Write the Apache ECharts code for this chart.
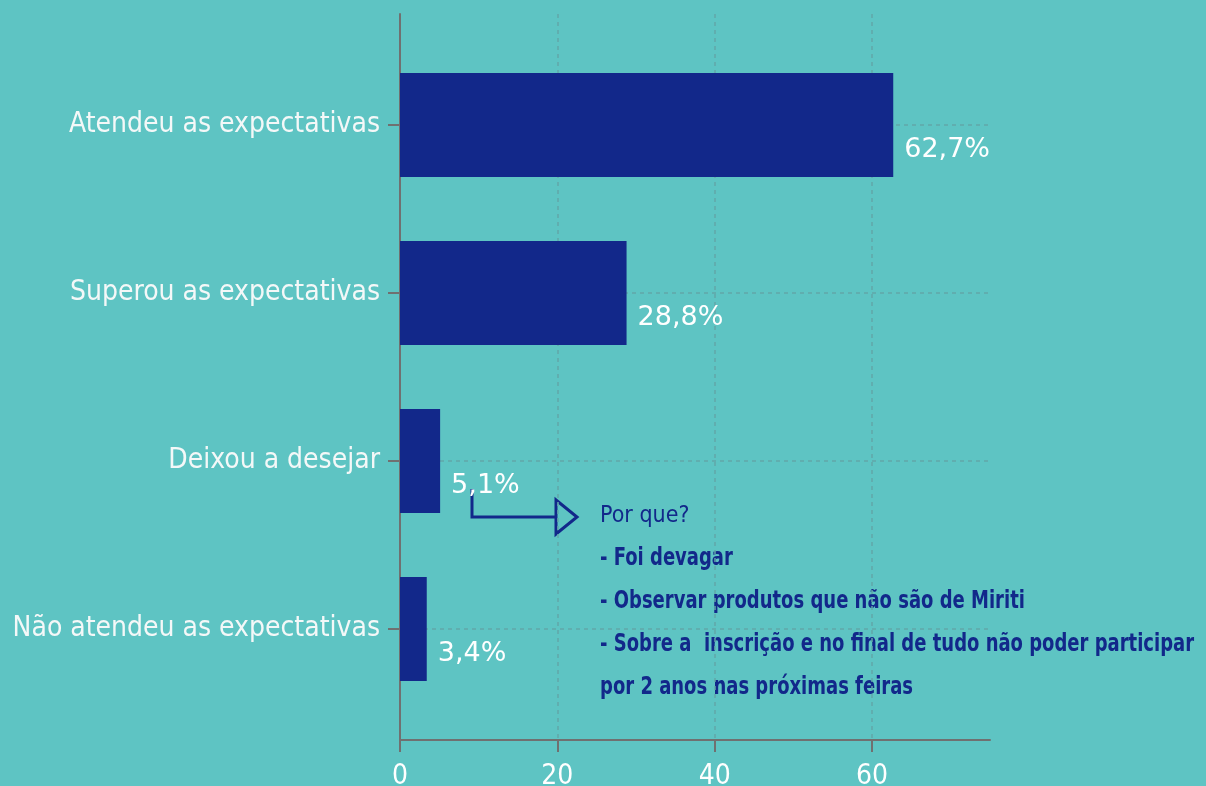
<!DOCTYPE html>
<html>
<head>
<meta charset="utf-8">
<script src="https://cdn.jsdelivr.net/npm/echarts@6/dist/echarts.min.js"></script>
<style>
  html, body { margin: 0; padding: 0; background: #5ec4c3; }
  #chart { width: 1206px; height: 786px; }
</style>
</head>
<body>
<div id="chart"></div>
<script>
// dados do gráfico
var categorias = ['Atendeu as expectativas', 'Superou as expectativas', 'Deixou a desejar', 'Não atendeu as expectativas']
var valores = [62.7, 28.8, 5.1, 3.4]
var ticksX = [0, 20, 40, 60]
var nota = [
  'Por que?',
  '- Foi devagar',
  '- Observar produtos que não são de Miriti',
  '- Sobre a  inscrição e no final de tudo não poder participar',
  'por 2 anos nas próximas feiras'
]

var azul = '#12288a'
var cinza = '#707070'
var grade = '#62a6a9'
var fonteCond = '"Liberation Sans Narrow", "DejaVu Sans Condensed", sans-serif'

var chart = echarts.init(document.getElementById('chart'))

// texto da nota ao lado (linhas em negrito comprimidas na horizontal)
var notaGraphics = nota.map(function (linha, i) {
  var negrito = i > 0
  return {
    type: 'text',
    x: 600,
    y: [516, 558, 601, 644, 687][i],
    scaleX: negrito ? 0.8 : 1,
    style: {
      text: linha,
      fill: azul,
      verticalAlign: 'middle',
      font: (negrito ? 'bold 25px ' : 'normal 23px ') + fonteCond
    }
  }
})

chart.setOption({
  backgroundColor: '#5ec4c3',
  animation: false,
  grid: [
    // moldura dos eixos
    { left: 400, right: 216, top: 14, bottom: 46, outerBoundsMode: 'none', containLabel: false },
    // barras
    { left: 400, right: 216, top: 41, bottom: 73, outerBoundsMode: 'none', containLabel: false }
  ],
  xAxis: [
    {
      gridIndex: 0,
      type: 'value',
      min: 0,
      max: 75,
      axisLine: { show: true, lineStyle: { color: cinza, width: 2 } },
      axisTick: { show: true, customValues: ticksX, length: 12, lineStyle: { color: cinza, width: 2 } },
      axisLabel: { customValues: ticksX, color: '#ffffff', fontSize: 28, margin: 23, fontFamily: fonteCond },
      splitLine: { show: true, lineStyle: { color: grade, type: [4, 4], width: 1.5 } }
    },
    {
      gridIndex: 1,
      type: 'value',
      min: 0,
      max: 75,
      show: false
    }
  ],
  yAxis: [
    {
      gridIndex: 0,
      type: 'value',
      axisLine: { show: true, lineStyle: { color: cinza, width: 2 } },
      axisTick: { show: false },
      axisLabel: { show: false },
      splitLine: { show: false }
    },
    {
      gridIndex: 1,
      type: 'category',
      inverse: true,
      data: categorias,
      axisLine: { show: false },
      axisTick: { show: true, alignWithLabel: true, length: 12, lineStyle: { color: cinza, width: 2 } },
      axisLabel: { color: '#f4f8f8', fontSize: 28, margin: 20, fontFamily: fonteCond },
      splitLine: { show: true, alignWithLabel: true, lineStyle: { color: grade, type: [4, 4], width: 1.5 } }
    }
  ],
  graphic: [
    {
      type: 'polyline',
      shape: { points: [[472, 489], [472, 517], [556, 517]] },
      style: { stroke: azul, lineWidth: 3, fill: null }
    },
    {
      type: 'polygon',
      shape: { points: [[556, 500], [577, 517], [556, 534]] },
      style: { stroke: azul, lineWidth: 3, fill: null }
    }
  ].concat(notaGraphics),
  series: [
    {
      type: 'bar',
      xAxisIndex: 1,
      yAxisIndex: 1,
      data: valores,
      barWidth: 104,
      itemStyle: { color: azul },
      label: {
        show: true,
        position: 'right',
        distance: 11,
        offset: [0, 25],
        color: '#ffffff',
        fontSize: 27,
        fontFamily: 'DejaVu Sans',
        formatter: function (p) {
          return p.value.toFixed(1).replace('.', ',') + '%'
        }
      }
    }
  ]
})
</script>
</body>
</html>
